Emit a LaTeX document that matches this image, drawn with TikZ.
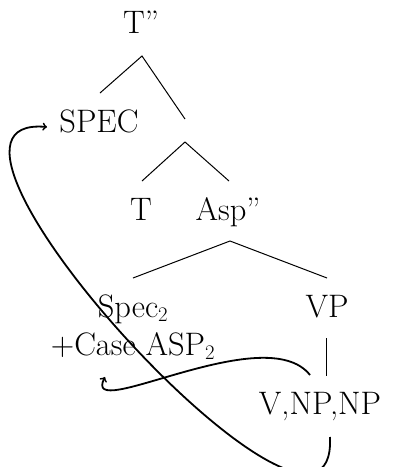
\documentclass[tikz,border=0pt]{standalone}
\begin{document}
\begin{tikzpicture}[x=1pt,y=-1pt,
  lab/.style={anchor=base,inner sep=0pt,font=\fontsize{32.5}{39}\selectfont},
  branch/.style={line width=1pt},
  mv/.style={line width=1.8pt}]
\useasboundingbox (0,0) rectangle (392,467);
% labels
\node[lab] (tp) at (141,33) {T''};
\node[lab] (spec) at (99,132) {SPEC};
\node[lab] (t) at (141,220) {T};
\node[lab] (asp) at (228,220) {Asp''};
\node[lab] (spec2) at (133,317) {Spec$_2$};
\node[lab] (vp) at (327,317) {VP};
\node[lab] (case) at (133,355) {+Case ASP$_2$};
\node[lab] (vnp) at (320,414) {V,NP,NP};
% branch points
\coordinate (a1) at (142,56);
\coordinate (a1l) at (100,93);
\coordinate (a1r) at (185,119);
\coordinate (a2) at (185,142);
\coordinate (a2l) at (142,181);
\coordinate (a2r) at (229,181);
\coordinate (a3) at (230,241);
\coordinate (a3l) at (133,278);
\coordinate (a3r) at (327,278);
\coordinate (v1) at (326,338);
\coordinate (v2) at (326,376);
\draw[branch] (a1l) -- (a1) -- (a1r);
\draw[branch] (a2l) -- (a2) -- (a2r);
\draw[branch] (a3l) -- (a3) -- (a3r);
\draw[branch] (v1) -- (v2);
% movement arrows
\coordinate (s1) at (310,375);
\coordinate (e1) at (105,377);
\draw[mv,->] (s1) .. controls (265,318) and (80,425) .. (e1);
\coordinate (s2) at (330,437);
\coordinate (e2) at (47,127);
\draw[mv,->] (s2) .. controls (338,610) and (-120,112) .. (e2);
\end{tikzpicture}
\end{document}
